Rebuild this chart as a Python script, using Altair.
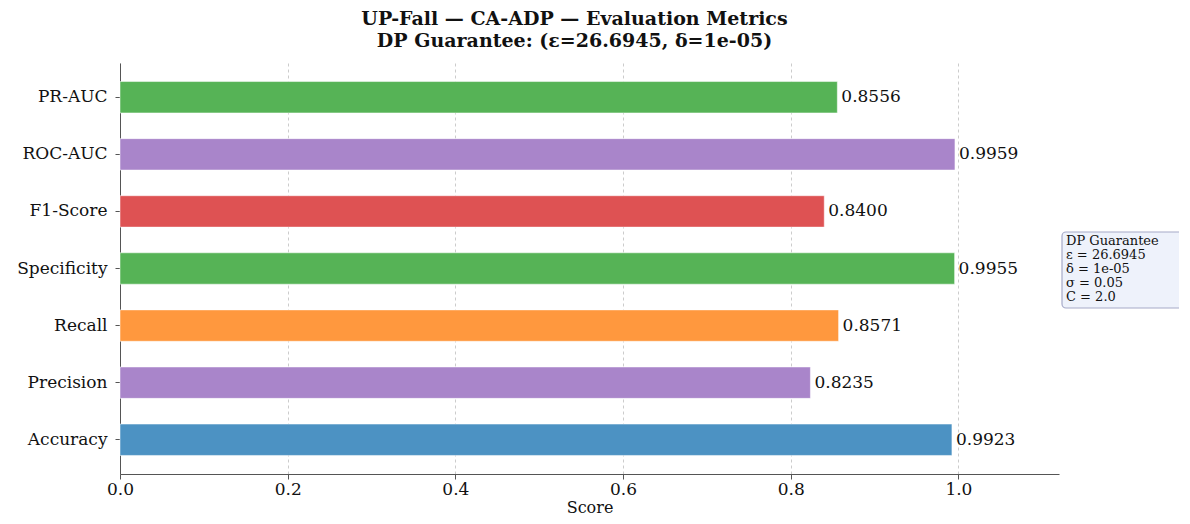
import altair as alt
import pandas as pd

metrics = ["Accuracy", "Precision", "Recall", "Specificity", "F1-Score", "ROC-AUC", "PR-AUC"]
scores = [0.9923, 0.8235, 0.8571, 0.9955, 0.8400, 0.9959, 0.8556]
bar_colors = ["#4c92c3", "#a985ca", "#ff983e", "#56b356", "#de5253", "#a985ca", "#56b356"]
box_lines = ["DP Guarantee", "ε = 26.6945", "δ = 1e-05", "σ = 0.05", "C = 2.0"]
title_lines = ["UP-Fall — CA-ADP — Evaluation Metrics", "DP Guarantee: (ε=26.6945, δ=1e-05)"]

df = pd.DataFrame({"metric": metrics, "score": scores, "color": bar_colors})
df["label"] = df["score"].map(lambda v: f"{v:.4f}")

FONT = "DejaVu Serif"
order = list(reversed(metrics))

x = alt.X("score:Q", title="Score",
          scale=alt.Scale(domain=[0, 1.12], nice=False, zero=True),
          axis=alt.Axis(values=[0, 0.2, 0.4, 0.6, 0.8, 1.0], format=".1f",
                        grid=True, gridDash=[3, 3], gridColor="#cccccc",
                        domainColor="#555555", tickColor="#555555", labelFlush=False,
                        labelFontSize=17, titleFontSize=16, labelPadding=2,
                        titlePadding=2, tickSize=5))
y = alt.Y("metric:N", title=None, sort=order,
          scale=alt.Scale(paddingInner=0.45, paddingOuter=0.325),
          axis=alt.Axis(grid=False, domainColor="#555555", tickColor="#555555",
                        labelFontSize=17, labelPadding=8, tickSize=5))

base = alt.Chart(df)
bars = base.mark_bar(stroke="white", strokeOpacity=0.5, strokeWidth=1).encode(
    x=x, y=y, color=alt.Color("color:N", scale=None))
labels = base.mark_text(align="left", baseline="middle", dx=4, fontSize=17,
                        font=FONT, color="#111111").encode(
    x="score:Q", y=alt.Y("metric:N", sort=order), text="label:N")

box = alt.Chart(pd.DataFrame({"a": [0]})).mark_rect(
    fill="#eef2fb", stroke="#a6aac8", strokeWidth=1.2, cornerRadius=4).encode(
    x=alt.value(942), x2=alt.value(1063), y=alt.value(169), y2=alt.value(245))
box_text = alt.Chart(pd.DataFrame({"a": [0]})).mark_text(
    text=box_lines, align="left", baseline="top", fontSize=13, lineHeight=14,
    font=FONT, color="#111111").encode(x=alt.value(946), y=alt.value(172))

chart = alt.layer(bars, labels, box, box_text).properties(
    width=939, height=411,
    title=alt.TitleParams(text=title_lines, font=FONT, fontSize=19, fontWeight="bold",
                          anchor="middle", dx=-15, offset=12, color="#111111", lineHeight=22),
    padding={"left": 112, "top": 55, "right": 120, "bottom": 42},
    autosize=alt.AutoSizeParams(type="none"),
).configure(font=FONT).configure_axis(labelFont=FONT, titleFont=FONT,
                                       labelColor="#111111", titleColor="#111111",
                                       titleFontWeight="normal").configure_view(stroke=None)

chart.save("out.html", embed_options={"renderer": "svg", "actions": False})
